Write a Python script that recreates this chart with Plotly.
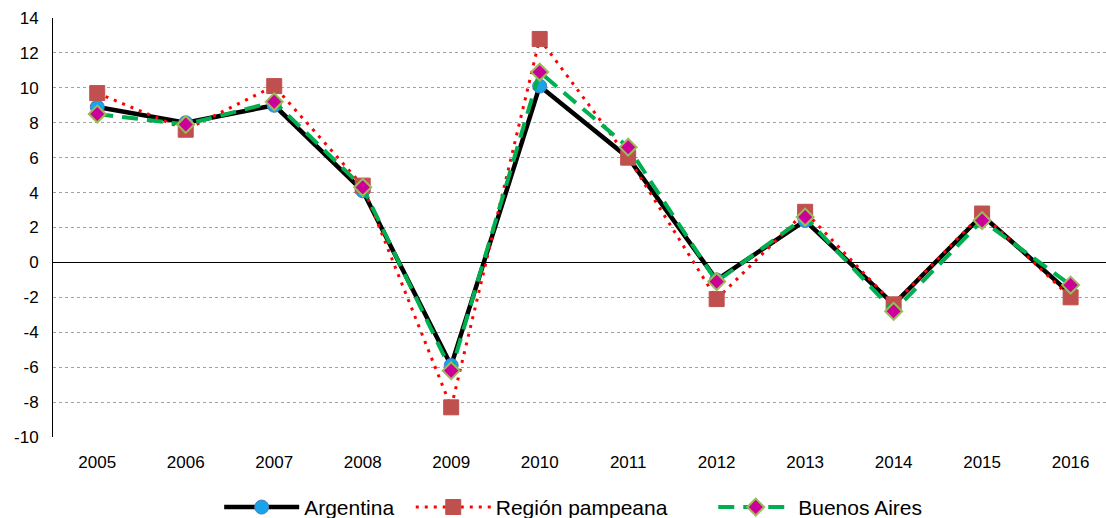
import plotly.graph_objects as go

years = ["2005", "2006", "2007", "2008", "2009", "2010", "2011", "2012", "2013", "2014", "2015", "2016"]
argentina = [8.9, 8.0, 9.0, 4.1, -5.9, 10.1, 6.0, -1.0, 2.4, -2.4, 2.7, -1.8]
region_pampeana = [9.7, 7.6, 10.1, 4.4, -8.3, 12.8, 6.0, -2.1, 2.9, -2.4, 2.8, -2.0]
buenos_aires = [8.5, 7.9, 9.2, 4.3, -6.2, 10.9, 6.6, -1.1, 2.6, -2.8, 2.4, -1.3]
y_ticks = list(range(-10, 16, 2))
y_ticktext = [str(v) for v in y_ticks]

fig = go.Figure()
fig.add_trace(go.Scatter(
    x=years, y=argentina, name="Argentina  ", mode="lines+markers",
    line=dict(color="black", width=4.5),
    marker=dict(symbol="circle", size=14, color="#1aa3e8", line=dict(color="#4a7ebb", width=1)),
))
fig.add_trace(go.Scatter(
    x=years, y=region_pampeana, name="Región pampeana       ", mode="lines+markers",
    line=dict(color="#ff0000", width=3, dash="3px,6px"),
    marker=dict(symbol="square", size=15, color="#c0504d", line=dict(color="#c0504d", width=1)),
))
fig.add_trace(go.Scatter(
    x=years, y=buenos_aires, name="Buenos Aires", mode="lines+markers",
    line=dict(color="#00b050", width=4, dash="16px,9px"),
    marker=dict(symbol="diamond", size=13, color="#cc0099", line=dict(color="#9bbb59", width=2)),
))

fig.update_layout(
    width=1106, height=518,
    margin=dict(l=53, r=0, t=18, b=81, autoexpand=False),
    plot_bgcolor="white", paper_bgcolor="white",
    font=dict(family="Liberation Sans, Arial, sans-serif", size=17, color="black"),
    showlegend=True,
    legend=dict(orientation="h", x=0.494, xanchor="center", y=-0.168, yanchor="middle",
                font=dict(size=21), itemwidth=75, traceorder="normal"),
    xaxis=dict(type="category", range=[-0.5, 11.4], showgrid=False, showline=False,
               zeroline=False, ticks="", tickfont=dict(size=17), automargin=False,
               ticklabelstandoff=13),
    yaxis=dict(range=[-10, 14], tickvals=y_ticks, ticktext=y_ticktext, showgrid=True,
               gridcolor="#a0a0a0", griddash="dot", gridwidth=1, zeroline=True,
               zerolinecolor="black", zerolinewidth=1, showline=True, linecolor="black",
               linewidth=1, ticks="", tickfont=dict(size=17), automargin=False,
               ticklabelstandoff=10),
)

fig.write_html("out.html", config={"displayModeBar": False},
               post_script="document.body.style.margin='0';")
